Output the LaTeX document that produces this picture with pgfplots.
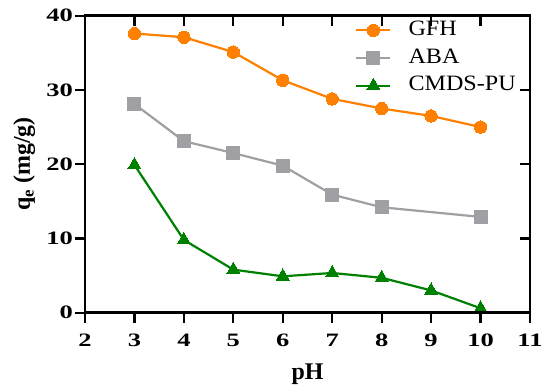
\documentclass[border=0pt]{standalone}
\usepackage{pgfplots}
\pgfplotsset{compat=1.18}
\usepackage{fontspec}
\setmainfont{Liberation Serif}
\newfontfamily\tickfont[FakeStretch=1.4]{Liberation Serif Bold}
\newfontfamily\legfont[FakeStretch=1.1]{Liberation Serif}
\usetikzlibrary{calc}
\definecolor{cGFH}{HTML}{FF8000}
\definecolor{cABA}{HTML}{A0A0A4}
\definecolor{cCM}{HTML}{008000}
\begin{document}
\begin{tikzpicture}
\pgfplotsset{
  common/.style={
    scale only axis, width=445bp, height=297bp,
    xmin=2, xmax=11, ymin=0, ymax=40,
    xtick={2,...,11}, ytick={0,10,20,30,40},
    axis line style={line width=2.6bp},
    major tick style={line width=2.2bp, black},
    major tick length=10bp,
    /pgf/number format/assume math mode=true,
  }
}
\begin{axis}[common, name=ax,
  xtick pos=left, ytick pos=left, tick align=outside,
  ticklabel style={font=\tickfont\fontsize{19}{19}\selectfont, inner sep=0pt},
  xticklabel style={anchor=north, yshift=-11bp},
  yticklabel style={anchor=east, xshift=-2bp},
  xlabel={\bfseries\fontsize{24}{24}\selectfont pH},
  ylabel={\bfseries\fontsize{24}{24}\selectfont q\textsubscript{e} (mg/g)},
  xlabel style={at={(axis description cs:0.5,0)}, anchor=base, yshift=-67bp, inner sep=0pt},
  ylabel style={at={(axis description cs:0,0.5)}, anchor=base, yshift=55bp, inner sep=0pt},
  legend style={draw=none, fill=none, at={(0.607,0.985)}, anchor=north west,
    font=\legfont\fontsize{22}{22}\selectfont, row sep=7.7bp, inner sep=0pt,
    nodes={inner sep=0pt, text height=15bp, text depth=5bp}},
  legend cell align=left,
  legend image code/.code={\draw[mark repeat=2,mark phase=2] plot coordinates {(0,0) (17bp,0) (34bp,0)}; \path (51bp,0);},
  every axis plot/.append style={line width=2.2bp},
]
\addplot[color=cGFH, mark=*, mark size=6.2bp, mark options={solid, fill=cGFH, draw=cGFH, line width=0pt}] coordinates {
(3,37.6) (4,37.1) (5,35.1) (6,31.3) (7,28.8) (8,27.5) (9,26.5) (10,25.0)};
\addlegendentry{GFH}
\addplot[color=cABA, mark=square*, mark size=6.5bp, mark options={solid, fill=cABA, draw=cABA, line width=0pt}] coordinates {
(3,28.1) (4,23.1) (5,21.5) (6,19.8) (7,15.9) (8,14.2) (10,12.9)};
\addlegendentry{ABA}
\addplot[color=cCM, mark=triangle*, mark size=7.5bp, mark options={solid, fill=cCM, draw=cCM, line width=0pt}] coordinates {
(3,19.9) (4,9.8) (5,5.8) (6,4.9) (7,5.35) (8,4.7) (9,3.0) (10,0.6)};
\addlegendentry{CMDS-PU}
\end{axis}
\begin{axis}[common,
  xtick pos=right, ytick pos=right, tick align=inside,
  xticklabels={}, yticklabels={},
]
\end{axis}
\pgfresetboundingbox
\path[use as bounding box] ($(ax.south west)+(-85bp,-73bp)$) rectangle ($(ax.north east)+(17bp,15.7bp)$);
\end{tikzpicture}
\end{document}
